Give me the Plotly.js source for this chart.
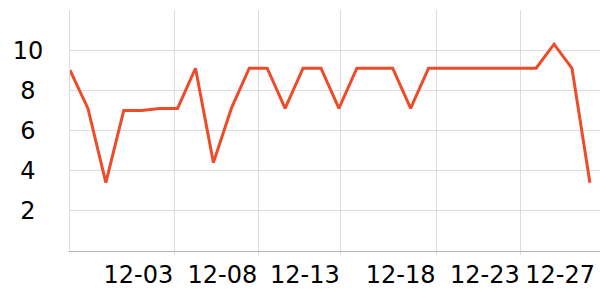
<!DOCTYPE html>
<html>
<head>
<meta charset="utf-8">
<script src="https://cdn.plot.ly/plotly-3.0.1.min.js"></script>
<style>html,body{margin:0;padding:0;background:#fff;}#chart{width:600px;height:300px;}</style>
</head>
<body>
<div id="chart"></div>
<script>
// Daily dates 2023-11-28 .. 2023-12-27
const dates = [
  "2023-11-28","2023-11-29","2023-11-30","2023-12-01","2023-12-02","2023-12-03",
  "2023-12-04","2023-12-05","2023-12-06","2023-12-07","2023-12-08","2023-12-09",
  "2023-12-10","2023-12-11","2023-12-12","2023-12-13","2023-12-14","2023-12-15",
  "2023-12-16","2023-12-17","2023-12-18","2023-12-19","2023-12-20","2023-12-21",
  "2023-12-22","2023-12-23","2023-12-24","2023-12-25","2023-12-26","2023-12-27"
];
const values = [
  9.0, 7.1, 3.4, 7.0, 7.0, 7.1,
  7.1, 9.1, 4.4, 7.1, 9.1, 9.1,
  7.1, 9.1, 9.1, 7.1, 9.1, 9.1,
  9.1, 7.1, 9.1, 9.1, 9.1, 9.1,
  9.1, 9.1, 9.1, 10.3, 9.1, 3.4
];
const xTickVals = [
  "2023-12-03 19:36","2023-12-08 12:00","2023-12-13 02:24",
  "2023-12-18 10:34","2023-12-23 03:20"
];
const xTickText = ["12-03","12-08","12-13","12-18","12-23"];
const lastTickVal = ["2023-12-27 08:10"];
const lastTickText = ["12-27"];
const yTickVals = [2, 4, 6, 8, 10];
const yTickText = ["2\u2008", "4\u2008", "6\u2008", "8\u2008", "10"];

const xRange = ["2023-11-28", "2023-12-27 13:30"];
const tickFont = {family: "DejaVu Sans", size: 24, color: "#000"};

const trace = {
  x: dates, y: values, type: "scatter", mode: "lines",
  line: {color: "#EE4B2B", width: 3},
  hoverinfo: "skip"
};
const layout = {
  width: 600, height: 300,
  margin: {l: 70, r: 0, t: 10, b: 49},
  paper_bgcolor: "#fff", plot_bgcolor: "#fff",
  showlegend: false,
  font: {family: "DejaVu Sans", size: 24, color: "#000"},
  xaxis: {
    type: "date", range: xRange,
    tickmode: "array", tickvals: xTickVals, ticktext: xTickText,
    ticklabelposition: "outside left",
    ticklabelstandoff: 2,
    showgrid: true, gridcolor: "#dcdcdc", gridwidth: 1,
    showline: true, linecolor: "#b5b5b5", linewidth: 1,
    ticks: "outside", ticklen: 3, tickcolor: "#dcdcdc",
    zeroline: false, fixedrange: true,
    tickfont: tickFont
  },
  xaxis2: {
    type: "date", range: xRange,
    overlaying: "x", anchor: "y", side: "bottom",
    tickmode: "array", tickvals: lastTickVal, ticktext: lastTickText,
    ticklabelposition: "outside left",
    ticklabelstandoff: 2,
    showgrid: false, zeroline: false,
    showline: true, linecolor: "rgba(0,0,0,0)", linewidth: 1,
    ticks: "outside", ticklen: 3, tickcolor: "rgba(0,0,0,0)",
    fixedrange: true, tickfont: tickFont
  },
  yaxis: {
    range: [0, 12],
    tickmode: "array", tickvals: yTickVals, ticktext: yTickText,
    showgrid: true, gridcolor: "#dcdcdc", gridwidth: 1,
    showline: true, linecolor: "#dcdcdc", linewidth: 1,
    ticks: "", zeroline: false, fixedrange: true,
    ticklabelstandoff: 21,
    tickfont: tickFont
  }
};
const ghost = {x: [], y: [], xaxis: "x2", yaxis: "y", type: "scatter", mode: "lines", hoverinfo: "skip"};
Plotly.newPlot("chart", [trace, ghost], layout, {displayModeBar: false, staticPlot: true});
</script>
</body>
</html>
